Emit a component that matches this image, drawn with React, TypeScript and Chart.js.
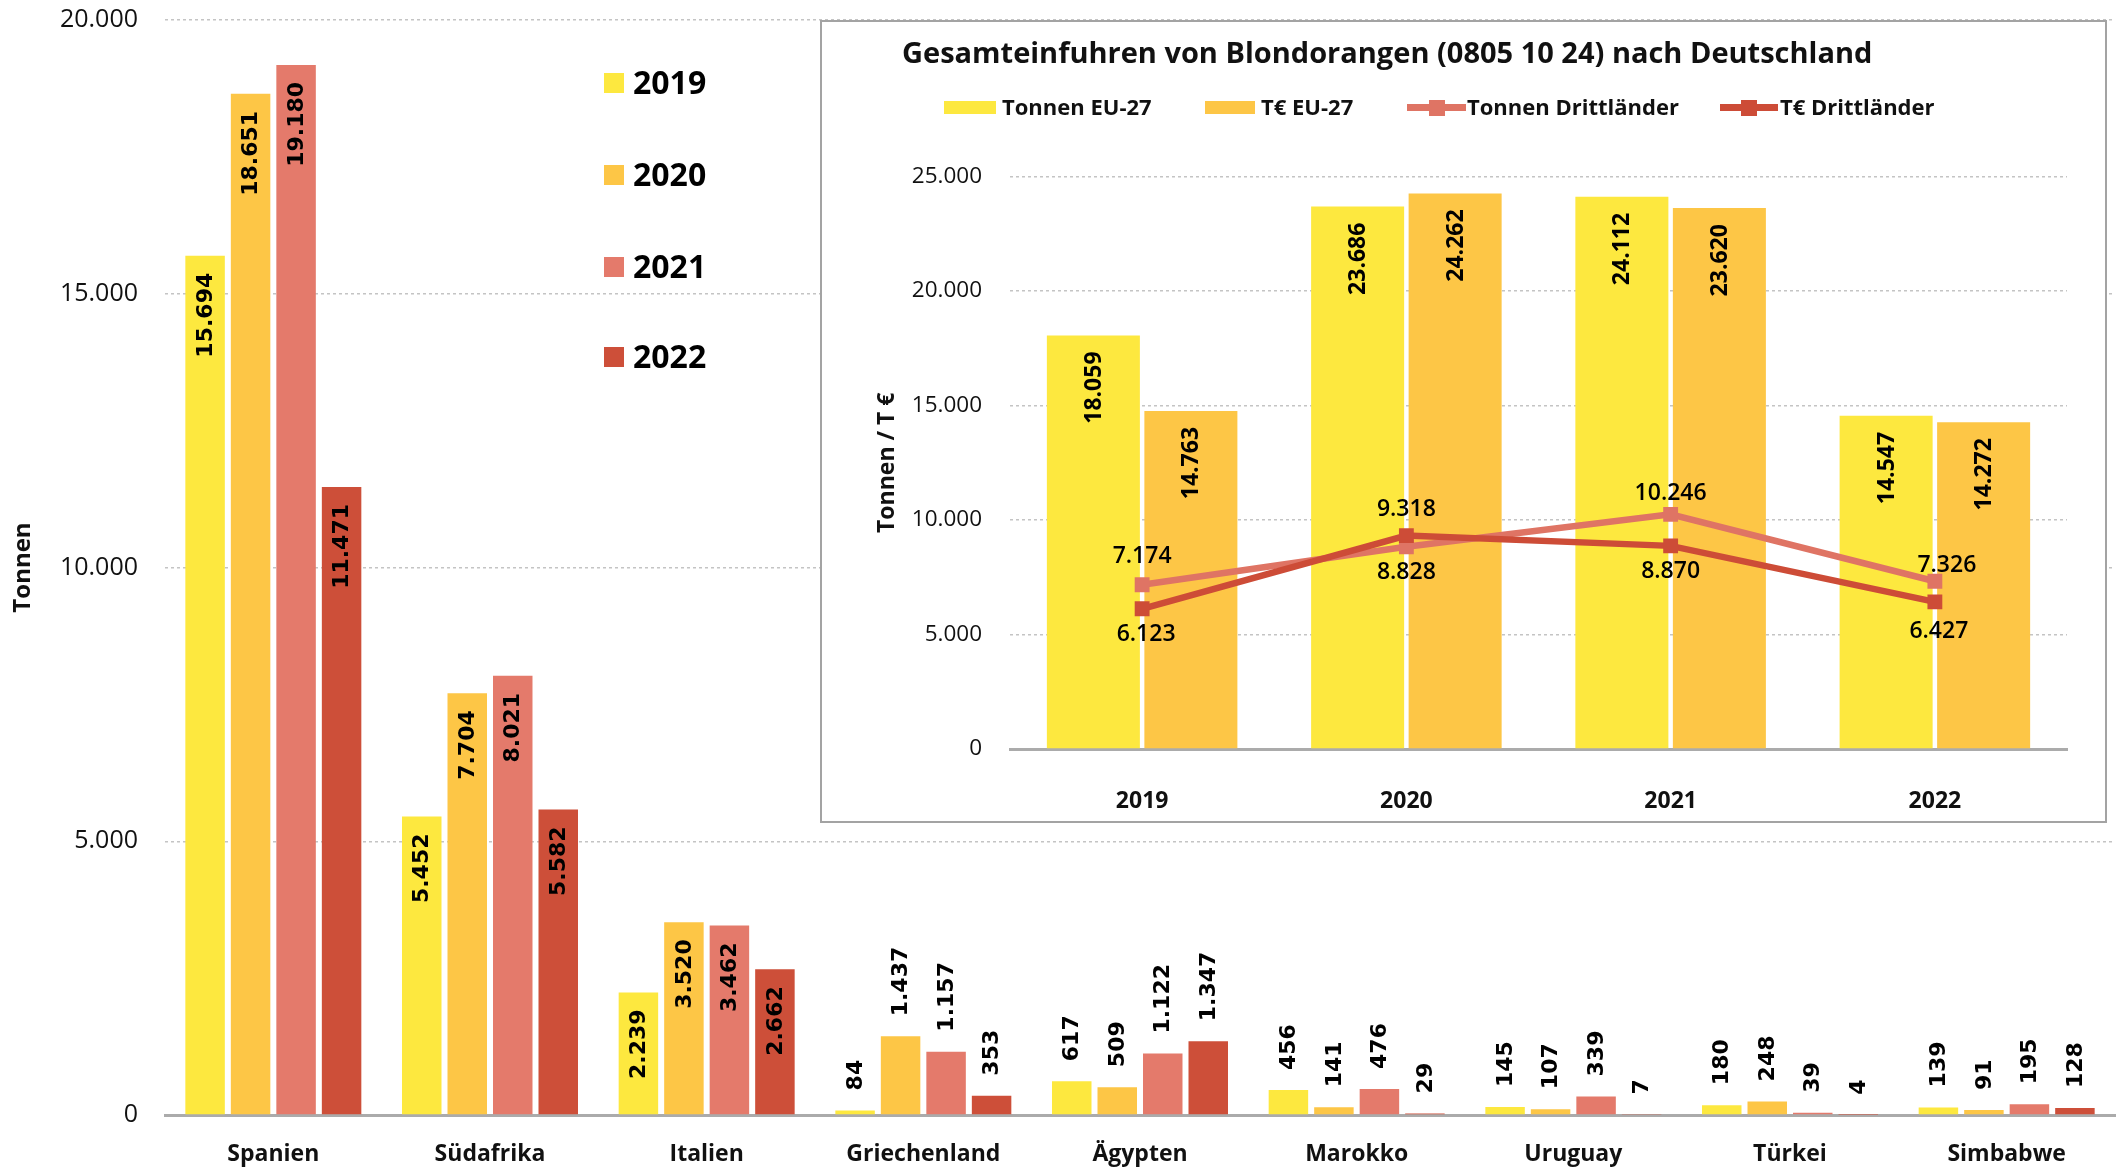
import React, { useEffect, useRef } from 'react';
import { Chart, registerables } from 'chart.js';

Chart.register(...registerables);

// ---------- data ----------
const countries = ['Spanien', 'Südafrika', 'Italien', 'Griechenland', 'Ägypten', 'Marokko', 'Uruguay', 'Türkei', 'Simbabwe'];
const years = ['2019', '2020', '2021', '2022'];
const values2019 = [15694, 5452, 2239, 84, 617, 456, 145, 180, 139];
const values2020 = [18651, 7704, 3520, 1437, 509, 141, 107, 248, 91];
const values2021 = [19180, 8021, 3462, 1157, 1122, 476, 339, 39, 195];
const values2022 = [11471, 5582, 2662, 353, 1347, 29, 7, 4, 128];
const mainTicks = [0, 5000, 10000, 15000, 20000];

const insetTitle = 'Gesamteinfuhren von Blondorangen (0805 10 24) nach Deutschland';
const insetYears = ['2019', '2020', '2021', '2022'];
const insetSeriesNames = ['Tonnen EU-27', 'T€ EU-27', 'Tonnen Drittländer', 'T€ Drittländer'];
const tonnenEU = [18059, 23686, 24112, 14547];
const euroEU = [14763, 24262, 23620, 14272];
const tonnenDritt = [7174, 8828, 10246, 7326];
const euroDritt = [6123, 9318, 8870, 6427];
const insetTicks = [0, 5000, 10000, 15000, 20000, 25000];

// ---------- styles ----------
const COLORS = ['#FDE83F', '#FDC646', '#E47A6B', '#CD4F39'];
const LINE_LIGHT = '#DF7464';
const LINE_DARK = '#CD4C37';
const OPEN = '"Open Sans", "Noto Sans", sans-serif';
const DEJAVU = '"DejaVu Sans", sans-serif';

// label placement (styling only)
const tonnenDrittLabelStyle = [
  { pos: 'above', dy: 22, dx: 0 },
  { pos: 'below', dy: 16, dx: 0 },
  { pos: 'above', dy: 14, dx: 0 },
  { pos: 'above', dy: 9, dx: 12 },
];
const euroDrittLabelStyle = [
  { pos: 'below', dy: 16, dx: 4 },
  { pos: 'above', dy: 20, dx: 0 },
  { pos: 'below', dy: 16, dx: 0 },
  { pos: 'below', dy: 20, dx: 4 },
];

function fmt(v: number): string {
  return String(Math.round(v)).replace(/\B(?=(\d{3})+(?!\d))/g, '.');
}

const mainLabelPlugin = {
  id: 'mainLabels',
  afterDatasetsDraw(chart: any) {
    const ctx = chart.ctx;
    ctx.save();
    ctx.font = 'bold 22px ' + DEJAVU;
    ctx.fillStyle = '#000';
    ctx.textBaseline = 'middle';
    chart.data.datasets.forEach((ds: any, di: number) => {
      const meta = chart.getDatasetMeta(di);
      meta.data.forEach((el: any, i: number) => {
        const v = ds.data[i] as number;
        const inside = v >= 2000;
        ctx.save();
        ctx.translate(el.x + 1, inside ? el.y + 17 : el.y - 20);
        ctx.rotate(-Math.PI / 2);
        ctx.textAlign = inside ? 'right' : 'left';
        ctx.fillText(fmt(v), 0, 0);
        ctx.restore();
      });
    });
    ctx.restore();
  },
};

const insetLabelPlugin = {
  id: 'insetLabels',
  afterDatasetsDraw(chart: any) {
    const ctx = chart.ctx;
    ctx.save();
    ctx.fillStyle = '#000';
    // bar labels
    ctx.font = 'bold 23px ' + OPEN;
    ctx.textBaseline = 'middle';
    [0, 1].forEach((di) => {
      const ds = chart.data.datasets[di];
      const meta = chart.getDatasetMeta(di);
      meta.data.forEach((el: any, i: number) => {
        ctx.save();
        ctx.translate(el.x + 1, el.y + 16);
        ctx.rotate(-Math.PI / 2);
        ctx.textAlign = 'right';
        ctx.fillText(fmt(ds.data[i]), 0, 0);
        ctx.restore();
      });
    });
    // line labels
    ctx.font = '600 23px ' + OPEN;
    ctx.textAlign = 'center';
    ctx.textBaseline = 'alphabetic';
    const styles = [tonnenDrittLabelStyle, euroDrittLabelStyle];
    [2, 3].forEach((di, k) => {
      const ds = chart.data.datasets[di];
      const meta = chart.getDatasetMeta(di);
      meta.data.forEach((el: any, i: number) => {
        const st = styles[k][i];
        const y = st.pos === 'above' ? el.y - st.dy : el.y + st.dy + 16.5;
        ctx.fillText(fmt(ds.data[i]), el.x + st.dx, y);
      });
    });
    ctx.restore();
  },
};

export default function App() {
  const mainRef = useRef<HTMLCanvasElement>(null);
  const insetRef = useRef<HTMLCanvasElement>(null);

  useEffect(() => {
    const series = [values2019, values2020, values2021, values2022];
    const main = new Chart(mainRef.current as HTMLCanvasElement, {
      type: 'bar',
      data: {
        labels: countries,
        datasets: years.map((y, i) => ({
          label: y,
          data: series[i],
          backgroundColor: COLORS[i],
          categoryPercentage: 0.84,
          barPercentage: 0.868,
        })),
      },
      options: {
        animation: false,
        responsive: false,
        maintainAspectRatio: false,
        layout: { padding: { left: 0, right: 10, top: 20, bottom: 0 } },
        plugins: { legend: { display: false }, tooltip: { enabled: false } },
        scales: {
          x: {
            grid: { display: false, drawTicks: false },
            border: { display: true, color: '#ababab', width: 3 },
            ticks: { font: { family: OPEN, size: 23, weight: 'bold' }, color: '#111', padding: 26 },
            afterFit: (s: any) => { s.height = 54; s.paddingLeft = 0; s.paddingRight = 0; },
          },
          y: {
            min: 0,
            max: 20000,
            afterBuildTicks: (s: any) => { s.ticks = mainTicks.map((v) => ({ value: v })); },
            ticks: { callback: (v: any) => fmt(Number(v)), font: { family: OPEN, size: 25 }, color: '#111', padding: 27 },
            grid: { color: '#c4c4c4', lineWidth: 1.5, drawTicks: false },
            border: { display: false, dash: [3, 3] },
            title: { display: true, text: 'Tonnen', font: { family: OPEN, size: 24, weight: 'bold' }, color: '#111', padding: { top: 9, bottom: 0 } },
            afterFit: (s: any) => { s.width = 165; s.paddingTop = 0; s.paddingBottom = 0; },
          },
        },
      } as any,
      plugins: [mainLabelPlugin],
    });

    const inset = new Chart(insetRef.current as HTMLCanvasElement, {
      type: 'bar',
      data: {
        labels: insetYears,
        datasets: [
          { type: 'bar', label: insetSeriesNames[0], data: tonnenEU, backgroundColor: COLORS[0], categoryPercentage: 0.738, barPercentage: 0.954, order: 3 },
          { type: 'bar', label: insetSeriesNames[1], data: euroEU, backgroundColor: COLORS[1], categoryPercentage: 0.738, barPercentage: 0.954, order: 3 },
          { type: 'line', label: insetSeriesNames[2], data: tonnenDritt, borderColor: LINE_LIGHT, backgroundColor: LINE_LIGHT, borderWidth: 6.5, tension: 0, pointStyle: 'rect', pointRadius: 10.5, pointBorderWidth: 0, order: 2 },
          { type: 'line', label: insetSeriesNames[3], data: euroDritt, borderColor: LINE_DARK, backgroundColor: LINE_DARK, borderWidth: 6.5, tension: 0, pointStyle: 'rect', pointRadius: 10.5, pointBorderWidth: 0, order: 1 },
        ],
      },
      options: {
        animation: false,
        responsive: false,
        maintainAspectRatio: false,
        layout: { padding: { left: 0, right: 38, top: 154.5, bottom: 0 } },
        plugins: { legend: { display: false }, tooltip: { enabled: false } },
        scales: {
          x: {
            grid: { display: false, drawTicks: false },
            border: { display: true, color: '#ababab', width: 3 },
            ticks: { font: { family: OPEN, size: 23, weight: 'bold' }, color: '#111', padding: 39 },
            afterFit: (s: any) => { s.height = 72; s.paddingLeft = 0; s.paddingRight = 0; },
          },
          y: {
            min: 0,
            max: 25000,
            afterBuildTicks: (s: any) => { s.ticks = insetTicks.map((v) => ({ value: v })); },
            ticks: { callback: (v: any) => fmt(Number(v)), font: { family: OPEN, size: 22.5 }, color: '#111', padding: 28 },
            grid: { color: '#c4c4c4', lineWidth: 1.5, drawTicks: false },
            border: { display: false, dash: [3, 3] },
            title: { display: true, text: 'Tonnen / T €', font: { family: OPEN, size: 23, weight: 'bold' }, color: '#111', padding: { top: 52, bottom: 0 } },
            afterFit: (s: any) => { s.width = 188; s.paddingTop = 0; s.paddingBottom = 0; },
          },
        },
      } as any,
      plugins: [insetLabelPlugin],
    });

    return () => {
      main.destroy();
      inset.destroy();
    };
  }, []);

  const legendRows = [83, 175, 266.5, 357];
  const textStyle = (size: number, left: number, capCenter: number): React.CSSProperties => ({
    position: 'absolute',
    left,
    top: capCenter - 0.531 * size,
    fontFamily: OPEN,
    fontWeight: 700,
    fontSize: size,
    lineHeight: 1,
    color: '#111',
    whiteSpace: 'nowrap',
  });

  const lineMarker = (left: number, width: number, color: string) => (
    <div style={{ position: 'absolute', left, top: 85.5 - 8, width, height: 16 }}>
      <div style={{ position: 'absolute', left: 0, top: 4.5, width, height: 7, background: color }} />
      <div style={{ position: 'absolute', left: width / 2 - 8, top: 0, width: 16, height: 16, background: color }} />
    </div>
  );

  return (
    <div style={{ position: 'absolute', left: 0, top: 0, width: 2125, height: 1169, overflow: 'hidden', background: '#fff' }}>
      <canvas ref={mainRef} width={2125} height={1169} style={{ position: 'absolute', left: 0, top: 0, width: 2125, height: 1169 }} />
      {years.map((y, i) => (
        <React.Fragment key={y}>
          <div style={{ position: 'absolute', left: 604, top: legendRows[i] - 10, width: 20, height: 20, background: COLORS[i] }} />
          <div style={{ ...textStyle(32, 633, legendRows[i]), color: '#000' }}>{y}</div>
        </React.Fragment>
      ))}
      <div style={{ position: 'absolute', left: 820, top: 20, width: 1287, height: 803, boxSizing: 'border-box', border: '2px solid #a3a3a3', background: '#fff' }}>
        <canvas ref={insetRef} width={1283} height={799} style={{ position: 'absolute', left: 0, top: 0, width: 1283, height: 799 }} />
        <div style={{ ...textStyle(29, 80, 41 - 0.357 * 29) }}>{insetTitle}</div>
        <div style={{ position: 'absolute', left: 122, top: 79, width: 52, height: 13, background: COLORS[0] }} />
        <div style={textStyle(22, 180, 84.5)}>{insetSeriesNames[0]}</div>
        <div style={{ position: 'absolute', left: 383, top: 79, width: 50, height: 13, background: COLORS[1] }} />
        <div style={textStyle(22, 439, 84.5)}>{insetSeriesNames[1]}</div>
        {lineMarker(585, 59, LINE_LIGHT)}
        <div style={textStyle(22, 645, 84.5)}>{insetSeriesNames[2]}</div>
        {lineMarker(898, 58, LINE_DARK)}
        <div style={textStyle(22, 958, 84.5)}>{insetSeriesNames[3]}</div>
      </div>
    </div>
  );
}
